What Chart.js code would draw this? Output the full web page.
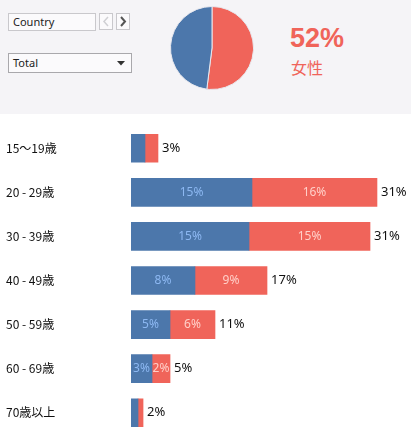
<!DOCTYPE html>
<html>
<head>
<meta charset="utf-8">
<script src="https://cdn.jsdelivr.net/npm/chart.js@4"></script>
<style>
  html,body{margin:0;padding:0;width:411px;height:430px;overflow:hidden;background:#fff;
    font-family:"Noto Sans","Noto Sans CJK JP",sans-serif;}
  #top{position:absolute;left:0;top:0;width:411px;height:114px;background:#f5f4f7;}
  .box{position:absolute;box-sizing:border-box;background:#fbfafc;font-size:11px;color:#222;}
  #country{left:8px;top:13px;width:88px;height:18px;border:1px solid #c9c8cc;padding:1px 0 0 4px;line-height:14px;}
  .btn{top:13px;width:14px;height:17px;border:1px solid #c9c8cc;}
  #prev{left:99px;}
  #next{left:116px;}
  #total{left:8px;top:53px;width:124px;height:20px;border:1px solid #a9a8ac;padding:0 0 0 4px;line-height:18px;}
  #pieWrap{position:absolute;left:167px;top:3px;width:90px;height:90px;}
  #big{position:absolute;left:290px;top:23px;font-size:27px;line-height:1.15;font-weight:bold;color:#f0645a;font-family:"Liberation Sans",Arial,sans-serif;}
  #sub{position:absolute;left:291px;top:55px;font-size:16px;color:#f0645a;font-family:"Noto Sans CJK JP",sans-serif;}
  #barWrap{position:absolute;left:0;top:119px;width:411px;height:323px;}
</style>
</head>
<body>
<div id="top">
  <div id="country" class="box">Country</div>
  <div id="prev" class="box btn"><svg width="12" height="15"><polyline points="8,3 4,7.5 8,12" fill="none" stroke="#d0d0d4" stroke-width="1.5"/></svg></div>
  <div id="next" class="box btn"><svg width="12" height="15"><polyline points="4,3 8,7.5 4,12" fill="none" stroke="#555" stroke-width="2"/></svg></div>
  <div id="total" class="box">Total<svg style="position:absolute;right:6px;top:7px" width="8" height="5"><polygon points="0,0 8,0 4,4.5" fill="#333"/></svg></div>
  <div id="pieWrap"><canvas id="pie"></canvas></div>
  <div id="big">52%</div>
  <div id="sub">女性</div>
</div>
<div id="barWrap"><canvas id="bar"></canvas></div>
<script>
const categories = ["15～19歳","20 - 29歳","30 - 39歳","40 - 49歳","50 - 59歳","60 - 69歳","70歳以上"];
const male   = [1.79, 15.47, 15.09, 8.18, 4.99, 2.69, 0.90];
const female = [1.66, 15.98, 15.47, 9.21, 5.75, 2.30, 0.64];
const pieLabels = ["女性","男性"];
const pieValues = [52, 48];

const BLUE = "#4c77ab";
const RED = "#f0645a";

new Chart(document.getElementById("pie"), {
  type: "pie",
  data: { labels: pieLabels, datasets: [{ data: pieValues, backgroundColor: [RED, BLUE], borderColor: "#e8e8ee", borderWidth: 1 }] },
  options: {
    responsive: true, maintainAspectRatio: false, animation: false,
    layout: { padding: 3 },
    plugins: { legend: { display: false }, tooltip: { enabled: false } }
  }
});

const labelPlugin = {
  id: "barLabels",
  afterDatasetsDraw(chart) {
    const ctx = chart.ctx;
    ctx.save();
    ctx.textBaseline = "middle";
    ctx.font = '12px "Noto Sans", sans-serif';
    const m0 = chart.getDatasetMeta(0), m1 = chart.getDatasetMeta(1);
    const inner = [{ meta: m0, vals: male, color: "#8db8f2" }, { meta: m1, vals: female, color: "#ffcfc8" }];
    inner.forEach(s => {
      s.meta.data.forEach((el, i) => {
        const w = Math.abs(el.x - el.base);
        const txt = Math.round(s.vals[i]) + "%";
        ctx.textAlign = "center";
        if (w >= ctx.measureText(txt).width + 1) {
          ctx.fillStyle = s.color;
          ctx.fillText(txt, (el.x + el.base) / 2, el.y);
        }
      });
    });
    ctx.font = '13px "Noto Sans", sans-serif';
    ctx.fillStyle = "#111";
    ctx.textAlign = "left";
    m1.data.forEach((el, i) => {
      const t = Math.round(male[i] + female[i]) + "%";
      ctx.fillText(t, el.x + 4, el.y);
    });
    ctx.restore();
  }
};

new Chart(document.getElementById("bar"), {
  type: "bar",
  data: {
    labels: categories,
    datasets: [
      { label: "男性", data: male, backgroundColor: BLUE, barThickness: 28 },
      { label: "女性", data: female, backgroundColor: RED, barThickness: 28 }
    ]
  },
  options: {
    indexAxis: "y",
    responsive: true, maintainAspectRatio: false, animation: false,
    layout: { padding: { left: 6, right: 0, top: 0, bottom: 0 } },
    scales: {
      x: { stacked: true, display: false, min: 0, max: 35.8 },
      y: {
        stacked: true,
        grid: { display: false, drawTicks: false },
        border: { display: false },
        afterFit(scale) { scale.width = 125; },
        ticks: { crossAlign: "far", padding: 0, color: "#111", font: { size: 12, family: '"Noto Sans CJK JP", "Noto Sans", sans-serif' } }
      }
    },
    plugins: { legend: { display: false }, tooltip: { enabled: false } }
  },
  plugins: [labelPlugin]
});
</script>
</body>
</html>
